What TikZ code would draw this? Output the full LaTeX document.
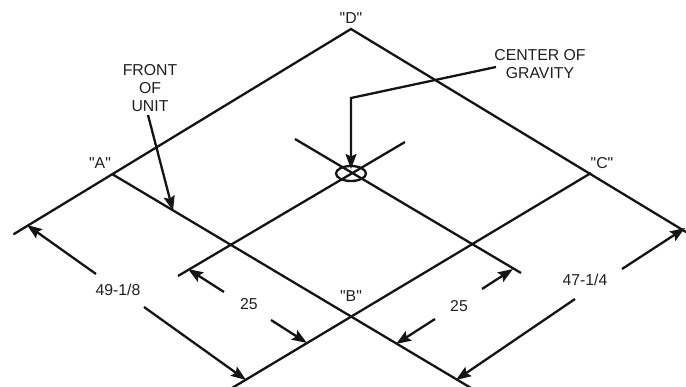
\documentclass[tikz,border=0pt]{standalone}
\usepackage{fontspec}
\newfontfamily\lbfont{Liberation Sans}
\usetikzlibrary{arrows.meta,shapes.geometric}
\tikzset{
  ln/.style={line width=2.3pt,draw=black!92},
  ar/.style={ln,-{Stealth[length=15pt,width=11pt,inset=2.5pt]}},
  lb/.style={inner sep=0pt,font=\lbfont\fontsize{15.8}{18}\selectfont,text=black!88,align=center}
}
\begin{document}
\begin{tikzpicture}[x=1pt,y=-1pt]
\useasboundingbox (0,0) rectangle (686,387);
\clip (0,0) rectangle (686,387);
% outline points
\coordinate (D) at (351,29);
\coordinate (LL) at (14,234);
\coordinate (RR) at (686,232);
\coordinate (A) at (112,174);
\coordinate (AE) at (471,388);
\coordinate (C) at (591,173);
\coordinate (CE) at (232,388);
\coordinate (X1) at (295,139);
\coordinate (X2) at (521,273);
\coordinate (Y1) at (405,142);
\coordinate (Y2) at (178,276);
\node[draw=black!92,line width=2.3pt,ellipse,minimum width=30pt,minimum height=15pt,inner sep=0pt] (cg) at (351,173.5) {};
% grid lines
\draw[ln,line cap=round,line join=miter] (LL) -- (D) -- (RR);
\draw[ln] (A) -- (AE);
\draw[ln] (C) -- (CE);
\draw[ln] (X1) -- (X2);
\draw[ln] (Y1) -- (Y2);
% labels
\node[lb] (lD) at (351,18) {"D"};
\node[lb] (lA) at (100,163) {"A"};
\node[lb] (lC) at (602,163) {"C"};
\node[lb] (lB) at (351,296) {"B"};
\node[lb] (fou) at (150,88.5) {FRONT\\OF\\UNIT};
\node[lb] (cog) at (540,64) {CENTER OF\\GRAVITY};
\node[lb] (d49) at (118,290) {49-1/8};
\node[lb] (d25a) at (249,304) {25};
\node[lb] (d25b) at (459,306) {25};
\node[lb] (d47) at (585,280) {47-1/4};
% leaders
\coordinate (f0) at (148,115);
\coordinate (f1) at (173,211);
\draw[ar] (f0) -- (f1);
\coordinate (g0) at (496,67);
\coordinate (g1) at (351,98);
\coordinate (g2) at (351,169);
\draw[ar,line join=miter] (g0) -- (g1) -- (g2);
% dimension arrows
\coordinate (a1) at (96,274); \coordinate (a2) at (27,225);
\coordinate (a3) at (144,307); \coordinate (a4) at (246,380);
\draw[ar] (a1) -- (a2);
\draw[ar] (a3) -- (a4);
\coordinate (b1) at (224,292); \coordinate (b2) at (188,269);
\coordinate (b3) at (271,320); \coordinate (b4) at (307,343);
\draw[ar] (b1) -- (b2);
\draw[ar] (b3) -- (b4);
\coordinate (c1) at (482,289); \coordinate (c2) at (513,269);
\coordinate (c3) at (435,319); \coordinate (c4) at (396,344);
\draw[ar] (c1) -- (c2);
\draw[ar] (c3) -- (c4);
\coordinate (e1) at (622,269); \coordinate (e2) at (685,228);
\coordinate (e3) at (575,299); \coordinate (e4) at (456,380);
\draw[ar] (e1) -- (e2);
\draw[ar] (e3) -- (e4);
\end{tikzpicture}
\end{document}
